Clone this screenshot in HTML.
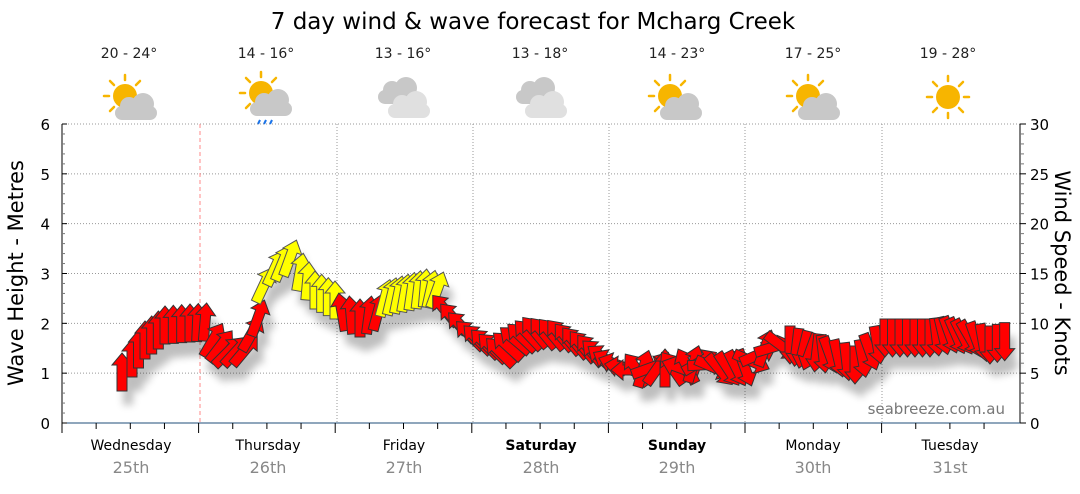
<!DOCTYPE html>
<html><head><meta charset="utf-8"><style>
body{margin:0;background:#fff;width:1080px;height:490px;overflow:hidden;font-family:"DejaVu Sans",sans-serif}
</style></head><body>
<svg id="s" width="1080" height="490" xmlns="http://www.w3.org/2000/svg" font-family="DejaVu Sans, Liberation Sans, sans-serif">
<defs>
<filter id="sh" x="-50%" y="-50%" width="200%" height="200%"><feGaussianBlur stdDeviation="4"/></filter>
<g id="sun"><circle r="12" fill="#f7b500"/><g stroke="#f7b500" stroke-width="2.5" stroke-linecap="round">
<line x1="0" y1="-16" x2="0" y2="-21"/><line x1="0" y1="16" x2="0" y2="21"/><line x1="-16" y1="0" x2="-21" y2="0"/><line x1="16" y1="0" x2="21" y2="0"/>
<line x1="11" y1="11" x2="15" y2="15"/><line x1="-11" y1="-11" x2="-15" y2="-15"/><line x1="11" y1="-11" x2="15" y2="-15"/><line x1="-11" y1="11" x2="-15" y2="15"/></g></g>
<g id="cl"><rect x="-20" y="0" width="42" height="14" rx="7" fill="#c8c8c8"/><circle cx="-6" cy="0" r="9" fill="#c8c8c8"/><circle cx="8" cy="-2" r="11" fill="#c8c8c8"/></g>
<g id="cl2"><rect x="-20" y="0" width="42" height="14" rx="7" fill="#e0e0e0"/><circle cx="-6" cy="0" r="9" fill="#e0e0e0"/><circle cx="8" cy="-2" r="11" fill="#e0e0e0"/></g>
</defs>
<text x="533" y="29" font-size="23" text-anchor="middle">7 day wind &amp; wave forecast for Mcharg Creek</text>
<g font-size="14" text-anchor="middle" fill="#222">
<text x="129" y="58">20 - 24°</text><text x="266" y="58">14 - 16°</text><text x="403" y="58">13 - 16°</text><text x="540" y="58">13 - 18°</text><text x="677" y="58">14 - 23°</text><text x="813" y="58">17 - 25°</text><text x="948" y="58">19 - 28°</text>
</g>
<use href="#sun" x="125" y="96"/><use href="#cl" x="135" y="106"/>
<use href="#sun" x="261" y="93"/><use href="#cl" x="270" y="102"/>
<g stroke="#1a73e8" stroke-width="2"><line x1="260" y1="120" x2="258" y2="124"/><line x1="266" y1="120" x2="264" y2="124"/><line x1="272" y1="120" x2="270" y2="124"/></g>
<use href="#cl" x="398" y="90"/><use href="#cl2" x="408" y="104"/>
<use href="#cl" x="536" y="90"/><use href="#cl2" x="545" y="104"/>
<use href="#sun" x="670" y="96"/><use href="#cl" x="680" y="106"/>
<use href="#sun" x="808" y="96"/><use href="#cl" x="818" y="106"/>
<use href="#sun" x="948" y="97"/>
<g id="grid" stroke="#999" stroke-width="1" stroke-dasharray="1,2"></g>
<line x1="200" y1="124" x2="200" y2="423" stroke="#f88" stroke-dasharray="4,3"/>
<g id="ax" stroke="#000" stroke-width="1"></g>
<g id="arr"></g>
<g font-size="15" fill="#000" id="lbl"></g>
<text x="16" y="273" font-size="21" text-anchor="middle" transform="rotate(-90 16 273)" dy="7">Wave Height - Metres</text>
<text x="1062" y="273" font-size="21" text-anchor="middle" transform="rotate(90 1062 273)" dy="7">Wind Speed - Knots</text>
<text x="1005" y="414" font-size="15" fill="#777" text-anchor="end">seabreeze.com.au</text>
<g text-anchor="middle" font-size="14">
<text x="131" y="450">Wednesday</text><text x="268" y="450">Thursday</text><text x="404" y="450">Friday</text><text x="541" y="450" font-weight="bold">Saturday</text><text x="677" y="450" font-weight="bold">Sunday</text><text x="813" y="450">Monday</text><text x="950" y="450">Tuesday</text>
<g fill="#888" font-size="16"><text x="131" y="473">25th</text><text x="268" y="473">26th</text><text x="404" y="473">27th</text><text x="541" y="473">28th</text><text x="677" y="473">29th</text><text x="813" y="473">30th</text><text x="950" y="473">31st</text></g>
</g>
</svg>
<script>
var NS="http://www.w3.org/2000/svg";
function el(p,t,a){var e=document.createElementNS(NS,t);for(var k in a)e.setAttribute(k,a[k]);p.appendChild(e);return e;}
var g=document.getElementById('grid'),ax=document.getElementById('ax'),lb=document.getElementById('lbl');
var L=62,R=1020,T=124,B=423;
for(var i=1;i<=6;i++){var y=B-i*(B-T)/6;el(g,'line',{x1:L,y1:y,x2:R,y2:y});}
[337,473,609,745,882].forEach(function(x){el(g,'line',{x1:x,y1:T,x2:x,y2:B});});
el(ax,'line',{x1:L,y1:T,x2:L,y2:B+10});el(ax,'line',{x1:R,y1:T,x2:R,y2:B});el(ax,'line',{x1:L,y1:B,x2:R,y2:B,stroke:'#1f4e79'});
for(var i=0;i<=30;i++){var y=B-i*(B-T)/30;el(ax,'line',{x1:L,y1:y,x2:L+(i%5==0?5:3),y2:y,stroke:i%5?'#777':'#000'});
 el(ax,'line',{x1:R,y1:y,x2:R+(i%5==0?6:4),y2:y,stroke:i%5?'#777':'#000'});}
for(var i=0;i<=6;i++){var y=B-i*(B-T)/6;var t=el(lb,'text',{x:50,y:y+6,'text-anchor':'end'});t.textContent=i;}
for(var i=0;i<=30;i+=5){var y=B-i*(B-T)/30;var t=el(lb,'text',{x:1030,y:y+6});t.textContent=i;}
for(var d=0;d<7;d++)for(var q=0;q<4;q++){var x=L+d*136.6+q*34.15;el(ax,'line',{x1:x,y1:B,x2:x,y2:B+(q==0?10:6)});}
var K=[[122,372,0,'R'],[132,358,0,'R'],[145,340,0,'R'],[165,325,0,'R'],[190,323,0,'R'],[205,322,5,'R'],[213,340,30,'R'],[228,352,45,'R'],[245,350,40,'R'],[258,318,20,'R'],
[264,285,25,'Y'],[275,268,25,'Y'],[290,258,20,'Y'],[300,272,10,'Y'],[315,290,0,'Y'],[335,300,0,'Y'],
[342,312,-10,'R'],[360,318,0,'R'],[378,312,15,'R'],[385,298,15,'Y'],[405,293,10,'Y'],[425,288,5,'Y'],[437,290,20,'Y'],
[445,310,-40,'R'],[470,335,-45,'R'],[500,352,-45,'R'],[515,340,-50,'R'],[535,332,-40,'R'],[560,335,-40,'R'],[590,350,-40,'R'],[610,362,-60,'R'],[630,370,-90,'R'],
[650,368,70,'R'],[680,368,-70,'R'],[700,362,60,'R'],[720,370,140,'R'],[745,368,160,'R'],[765,348,20,'R'],[790,345,180,'R'],[810,352,200,'R'],[830,355,160,'R'],[855,365,180,'R'],[870,352,160,'R'],[885,338,180,'R'],[930,338,180,'R'],[950,335,160,'R'],[970,338,150,'R'],[990,345,180,'R'],[1012,340,180,'R']];
var A=document.getElementById('arr');
var shp="0,-19 10,-7 5,-7 5,19 -5,19 -5,-7 -10,-7";
var sh=el(A,'g',{filter:'url(#sh)',opacity:'0.25'}),fg=el(A,'g',{});
for(var i=0;i<K.length-1;i++){var a=K[i],b=K[i+1];var n=Math.max(1,Math.round((b[0]-a[0])/7.5));
 for(var j=0;j<n;j++){var f=j/n;var x=a[0]+(b[0]-a[0])*f,y=a[1]+(b[1]-a[1])*f,r=a[2]+(b[2]-a[2])*f;
  var c=(f<0.5?a[3]:b[3])=='Y';
  el(sh,'polygon',{points:shp,fill:'#000',transform:'translate('+(x+6)+','+(y+14)+') rotate('+r+')'});
  el(fg,'polygon',{points:shp,fill:c?'#ffff00':'#ff0000',stroke:c?'#555':'#333','stroke-width':1,transform:'translate('+x+','+y+') rotate('+r+')'});}}
</script>
</body></html>
